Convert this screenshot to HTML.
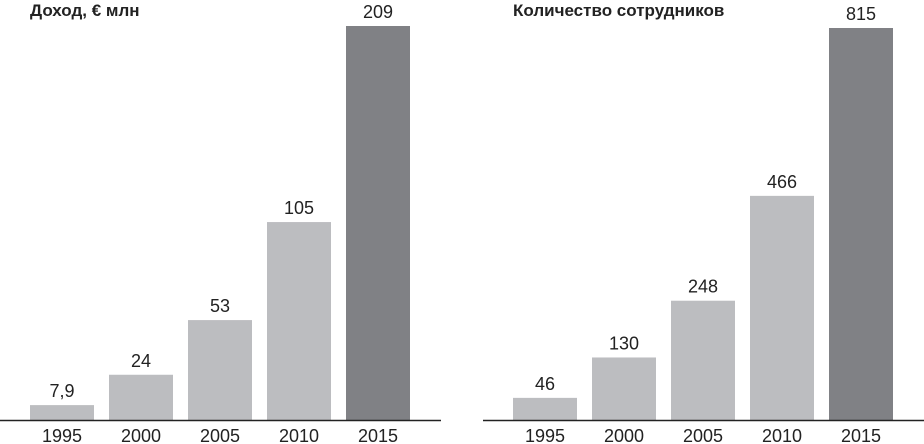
<!DOCTYPE html>
<html><head><meta charset="utf-8"><style>
body{margin:0;background:#fff;width:924px;height:444px;overflow:hidden}
svg{display:block;font-family:"Liberation Sans Narrow","Liberation Sans",sans-serif}
</style></head><body>
<svg id="c" width="924" height="444"></svg>
<script>
const years=["1995","2000","2005","2010","2015"];
const revenue=[7.9,24,53,105,209];
const revenueLabels=["7,9","24","53","105","209"];
const staff=[46,130,248,466,815];
const staffLabels=["46","130","248","466","815"];
const NS="http://www.w3.org/2000/svg";
const svg=document.getElementById('c');
function mk(t,a){const e=document.createElementNS(NS,t);for(const k in a)e.setAttribute(k,a[k]);svg.appendChild(e);return e;}
function panel(name,title,vals,labels,x0,axL,axR,max,topPx){
  const base=420;
  const y=v=>base-v/max*(base-topPx);
  const t=mk('text',{x:x0,y:16,'font-size':17,'font-weight':'bold',fill:'#222'});t.textContent=title;
  
  
  vals.forEach((v,i)=>{
    const bx=x0+i*79;
    const r=mk('rect',{x:bx,y:y(v),width:64,height:base-y(v),fill:i==vals.length-1?'#808185':'#bcbdc0'});
    
    
    const l=mk('text',{x:bx+32,y:y(v)-8,'font-size':18,'text-anchor':'middle',fill:'#222'});l.textContent=labels[i];
    
    
    const yl=mk('text',{x:bx+32,y:442,'font-size':18,'text-anchor':'middle',fill:'#222'});yl.textContent=years[i];
    
    
  });
  const ax=mk('line',{x1:axL,x2:axR,y1:base+0.5,y2:base+0.5,stroke:'#222','stroke-width':1.5});
  
  
}
panel('revenue','Доход, € млн',revenue,revenueLabels,30,0,441,209,26);
panel('staff','Количество сотрудников',staff,staffLabels,513,483,924,815,28);
</script>
</body></html>
